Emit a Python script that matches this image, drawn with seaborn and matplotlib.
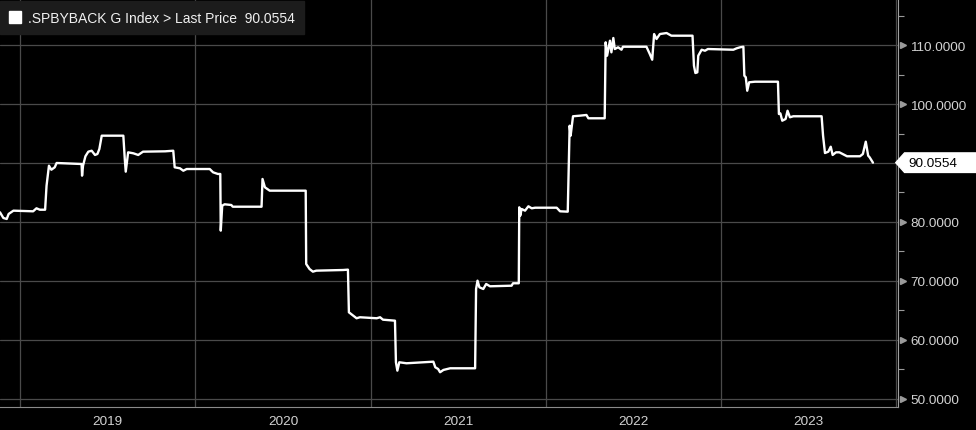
import pandas as pd
import matplotlib.pyplot as plt
import matplotlib.dates as mdates
import matplotlib.ticker as mticker
import matplotlib.transforms as mtransforms
from matplotlib.lines import Line2D
from matplotlib.path import Path
import seaborn as sns

ticker_name = '.SPBYBACK G Index'
field_name = 'Last Price'
last_price = 90.0554

dates = [
    '2018-11-20', '2018-11-27', '2018-12-04', '2018-12-08', '2018-12-18',
    '2019-01-28', '2019-02-04', '2019-02-11', '2019-02-22', '2019-02-25',
    '2019-03-02', '2019-03-07', '2019-03-14', '2019-03-18', '2019-05-09',
    '2019-05-10', '2019-05-12', '2019-05-17', '2019-05-23', '2019-05-30',
    '2019-06-06', '2019-06-11', '2019-06-15', '2019-06-20', '2019-08-04',
    '2019-08-07', '2019-08-09', '2019-08-14', '2019-08-25', '2019-09-04',
    '2019-09-14', '2019-10-30', '2019-11-16', '2019-11-19', '2019-11-30',
    '2019-12-07', '2019-12-14', '2020-01-31', '2020-02-07', '2020-02-17',
    '2020-02-22', '2020-02-23', '2020-02-26', '2020-03-02', '2020-03-16',
    '2020-03-19', '2020-05-18', '2020-05-20', '2020-05-25', '2020-06-04',
    '2020-08-18', '2020-08-19', '2020-08-26', '2020-09-02', '2020-09-09',
    '2020-11-04', '2020-11-14', '2020-11-16', '2020-11-25', '2020-12-02',
    '2020-12-09', '2021-01-13', '2021-01-20', '2021-01-26', '2021-02-20',
    '2021-02-22', '2021-02-25', '2021-03-01', '2021-03-16', '2021-05-11',
    '2021-05-15', '2021-05-21', '2021-05-25', '2021-06-01', '2021-06-15',
    '2021-08-06', '2021-08-08', '2021-08-11', '2021-08-15', '2021-08-23',
    '2021-08-29', '2021-09-06', '2021-10-21', '2021-10-24', '2021-11-05',
    '2021-11-06', '2021-11-08', '2021-11-11', '2021-11-18', '2021-11-25',
    '2021-12-02', '2021-12-09', '2022-01-23', '2022-01-30', '2022-02-15',
    '2022-02-19', '2022-02-21', '2022-02-26', '2022-03-12', '2022-03-26',
    '2022-03-30', '2022-05-03', '2022-05-05', '2022-05-08', '2022-05-14',
    '2022-05-17', '2022-05-21', '2022-05-24', '2022-05-31', '2022-06-07',
    '2022-06-10', '2022-07-29', '2022-08-05', '2022-08-10', '2022-08-14',
    '2022-08-19', '2022-08-26', '2022-09-09', '2022-09-19', '2022-11-02',
    '2022-11-05', '2022-11-08', '2022-11-12', '2022-11-14', '2022-11-21',
    '2022-11-28', '2022-12-04', '2023-01-26', '2023-02-02', '2023-02-09',
    '2023-02-16', '2023-02-18', '2023-02-21', '2023-02-24', '2023-02-28',
    '2023-03-12', '2023-04-29', '2023-05-01', '2023-05-04', '2023-05-08',
    '2023-05-15', '2023-05-19', '2023-05-24', '2023-05-31', '2023-07-29',
    '2023-08-01', '2023-08-05', '2023-08-12', '2023-08-17', '2023-08-21',
    '2023-08-28', '2023-09-04', '2023-09-20', '2023-10-17', '2023-10-23',
    '2023-10-29', '2023-11-03', '2023-11-06', '2023-11-13',
]

prices = [
    81.64, 80.68, 80.51, 81.36, 81.92,
    81.81, 82.32, 82.08, 82.08, 86.15,
    89.54, 88.86, 89.27, 90.00, 89.83,
    87.85, 89.54, 91.14, 91.92, 92.08,
    91.36, 91.53, 92.37, 94.63, 94.63,
    90.68, 88.53, 91.81, 91.64, 91.36,
    91.92, 91.98, 92.08, 89.27, 89.10,
    88.69, 88.98, 88.98, 88.42, 88.14,
    88.14, 78.53, 82.76, 83.00, 82.88,
    82.59, 82.59, 87.29, 85.88, 85.31,
    85.31, 72.88, 72.03, 71.58, 71.75,
    71.86, 71.92, 64.69, 64.12, 63.68,
    63.85, 63.68, 63.85, 63.44, 63.27,
    56.22, 54.80, 56.22, 56.05, 56.32,
    55.37, 55.08, 54.53, 54.92, 55.20,
    55.20, 68.64, 70.05, 68.93, 68.64,
    69.49, 69.10, 69.20, 69.61, 69.61,
    82.49, 81.07, 82.20, 81.92, 82.66,
    82.32, 82.42, 82.42, 81.81, 81.75,
    96.32, 94.63, 97.92, 98.02, 98.14,
    97.58, 97.58, 110.46, 108.19, 110.73,
    108.76, 111.19, 109.32, 109.61, 109.20,
    109.71, 109.71, 108.47, 107.51, 111.86,
    111.02, 111.86, 112.03, 111.58, 111.58,
    106.49, 105.25, 105.37, 108.19, 109.20,
    109.03, 109.32, 109.20, 109.44, 109.61,
    109.71, 104.80, 104.53, 102.25, 103.68,
    103.78, 103.78, 98.31, 98.42, 97.17,
    97.46, 98.86, 97.75, 97.92, 97.92,
    94.63, 91.69, 91.92, 92.76, 91.36,
    91.81, 91.81, 91.14, 91.14, 91.53,
    93.61, 91.24, 90.97, 90.0554,
]

years = ['2019', '2020', '2021', '2022', '2023']

df = pd.DataFrame({'date': pd.to_datetime(dates), 'price': prices})

sns.set_style('dark', {'axes.facecolor': 'black', 'figure.facecolor': 'black',
                       'grid.color': '#4a4a4a', 'axes.grid': True})
plt.rcParams['font.family'] = ['Liberation Sans', 'DejaVu Sans']


def tag_box(x0, y0, width, height, mutation_size):
    # flat box with a pointed left end, running off the right edge
    pad = 0.28 * mutation_size
    x0, y0 = x0 - pad, y0 - pad
    h = height + 2 * pad
    x1 = x0 + width + 2 * pad + 40
    tip = 0.45 * h
    return Path([(x0 - tip, y0 + h / 2), (x0, y0), (x1, y0), (x1, y0 + h),
                 (x0, y0 + h), (x0 - tip, y0 + h / 2)], closed=True)


def price_label(v, pos):
    # the last-price tag hides the axis label underneath it
    if abs(v - last_price) < 3:
        return ''
    return f'{v:.4f}'


fig = plt.figure(figsize=(9.76, 4.31), dpi=100, facecolor='black')
ax = fig.add_axes([0, 0.0534, 0.920, 0.9466])
ax.set_facecolor('black')

sns.lineplot(data=df, x='date', y='price', color='white', linewidth=1.7, ax=ax)

ax.set_xlim(pd.Timestamp('2018-11-20'), pd.Timestamp('2024-01-04'))
ax.set_ylim(48.64, 117.8)
ax.set_xlabel('')
ax.set_ylabel('')

# right hand price axis
ax.yaxis.tick_right()
ax.yaxis.set_major_locator(mticker.MultipleLocator(10))
ax.yaxis.set_minor_locator(mticker.MultipleLocator(5))
ax.yaxis.set_major_formatter(mticker.FuncFormatter(price_label))
ax.tick_params(axis='y', which='major', length=0, pad=9, labelsize=9.7,
               labelcolor='#d2d2d2')
ax.tick_params(axis='y', which='minor', length=4, width=0.8, color='#9a9a9a',
               direction='out')
ax.grid(True, which='major', axis='both', color='#4a4a4a', linewidth=0.9)

tri = ax.get_yaxis_transform() + mtransforms.ScaledTranslation(3.5 / 72, 0, fig.dpi_scale_trans)
ticks = [t for t in ax.get_yticks() if 48.64 <= t <= 117.8]
ax.plot([1] * len(ticks), ticks, linestyle='none', marker='>', markersize=4.5,
        color='#9a9a9a', transform=tri, clip_on=False)

# date axis: year separators, quarter ticks, centred year labels
ax.xaxis.set_major_locator(mdates.YearLocator())
ax.xaxis.set_minor_locator(mdates.MonthLocator(bymonth=[4, 7, 10]))
ax.xaxis.set_major_formatter(mticker.NullFormatter())
ax.tick_params(axis='x', which='major', length=17, width=0.9, color='#8a8a8a',
               direction='out')
ax.tick_params(axis='x', which='minor', length=3, width=0.8, color='#8a8a8a',
               direction='out')
for yr in years:
    ax.text(pd.Timestamp(f'{yr}-07-02'), -0.035, yr, transform=ax.get_xaxis_transform(),
            ha='center', va='center', color='#d2d2d2', fontsize=9.7)

for side in ['top', 'left']:
    ax.spines[side].set_visible(False)
ax.spines['right'].set_color('#a0a0a0')
ax.spines['bottom'].set_color('#8a8a8a')

# last price tag
ax.annotate(f'{last_price:.4f}', xy=(1, last_price), xycoords=('axes fraction', 'data'),
            xytext=(7.5, 0), textcoords='offset points', ha='left', va='center',
            color='black', fontsize=9.7, annotation_clip=False,
            bbox=dict(boxstyle=tag_box, fc='white', ec='white'))

# legend box
handle = Line2D([], [], marker='s', color='white', markeredgecolor='white',
                linestyle='none', markersize=8)
leg = ax.legend([handle], [f'{ticker_name} > {field_name}  {last_price:.4f}'],
                loc='upper left', bbox_to_anchor=(0, 0.995), borderaxespad=0,
                frameon=True, fancybox=False, facecolor='#1c1c1c', edgecolor='#1c1c1c',
                framealpha=1, fontsize=10, labelcolor='#f0f0f0', handlelength=0.8,
                handletextpad=0.5, borderpad=0.7)

plt.savefig('out.png', dpi=100, facecolor='black')
